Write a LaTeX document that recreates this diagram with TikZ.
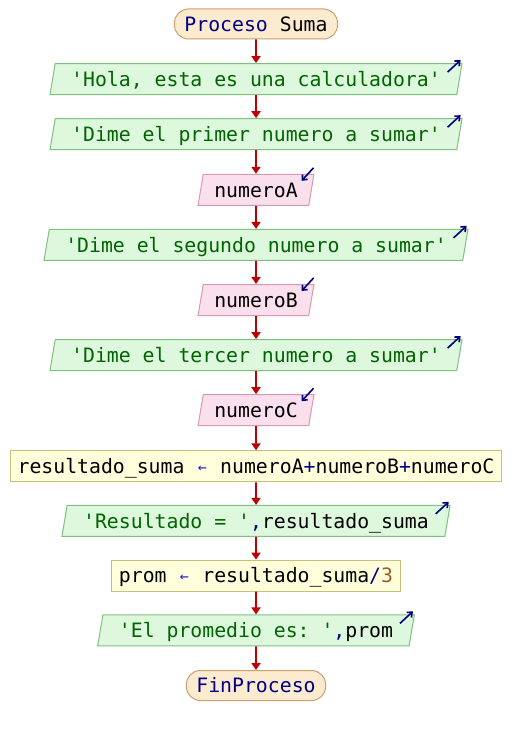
\documentclass[tikz,border=0pt]{standalone}
\usepackage{fontspec}
\setmonofont{DejaVu Sans Mono}
\usetikzlibrary{shapes.geometric,arrows.meta,calc}

% palette
\definecolor{termfill}{HTML}{FDEBD0}
\definecolor{termdraw}{HTML}{C8A070}
\definecolor{outfill}{HTML}{DDF8DD}
\definecolor{outdraw}{HTML}{80C080}
\definecolor{infill}{HTML}{FAE0EC}
\definecolor{indraw}{HTML}{D898B4}
\definecolor{asgfill}{HTML}{FFFFDC}
\definecolor{asgdraw}{HTML}{C8C078}
\definecolor{flowcol}{HTML}{C00000}
\definecolor{kwcol}{HTML}{000080}
\definecolor{strcol}{HTML}{006400}
\definecolor{opcol}{HTML}{000080}
\definecolor{asgcol}{HTML}{2020C0}
\definecolor{numcol}{HTML}{A05A28}
\definecolor{markcol}{HTML}{000080}

\newcommand{\str}[1]{{\color{strcol}#1}}
\newcommand{\kw}[1]{{\color{kwcol}#1}}
\newcommand{\op}[1]{{\color{opcol}#1}}
\newcommand{\num}[1]{{\color{numcol}#1}}
% assignment arrow: small glyph kept in one character cell
\newcommand{\asg}{\makebox[11.92pt]{\color{asgcol}\fontsize{15}{15}\selectfont\raisebox{1pt}{←}}}

\tikzset{
  base/.style={font=\ttfamily\fontsize{19.8}{22}\selectfont,
    text height=14.4pt, text depth=0pt, inner ysep=0pt, line width=1pt},
  terminal/.style={base, rectangle, rounded corners=14pt, draw=termdraw,
    fill=termfill, minimum height=30pt, inner xsep=10pt},
  outbox/.style={base, trapezium, trapezium left angle=70,
    trapezium right angle=110, trapezium stretches=true,
    draw=outdraw, fill=outfill, minimum height=31pt, inner xsep=16pt},
  inbox/.style={outbox, draw=indraw, fill=infill, inner xsep=11pt},
  assign/.style={base, rectangle, draw=asgdraw, fill=asgfill,
    minimum height=31pt, inner xsep=7pt},
  flow/.style={draw=flowcol, line width=1.8pt,
    -{Triangle[length=7pt,width=9pt]}},
  iomark/.style={draw=markcol, line width=1.6pt,
    -{Straight Barb[length=4pt,width=7pt,line width=1.6pt]}}
}

\begin{document}
\begin{tikzpicture}[x=1pt,y=-1pt]
  \fill[white] (0,0) rectangle (512,735);
  \useasboundingbox (0,0) rectangle (512,735);

  % blocks, top to bottom
  \node[terminal] (start) at (256,24)    {\kw{Proceso} Suma};
  \node[outbox]   (msg1)  at (256,79.1)  {\str{'Hola, esta es una calculadora'}};
  \node[outbox]   (msg2)  at (256,134.2) {\str{'Dime el primer numero a sumar'}};
  \node[inbox]    (inA)   at (256,189.8) {numeroA};
  \node[outbox]   (msg3)  at (256,244.9) {\str{'Dime el segundo numero a sumar'}};
  \node[inbox]    (inB)   at (256,300.0) {numeroB};
  \node[outbox]   (msg4)  at (256,355.1) {\str{'Dime el tercer numero a sumar'}};
  \node[inbox]    (inC)   at (256,410.2) {numeroC};
  \node[assign]   (sum)   at (256,466.3)
    {resultado\_suma \asg{} numeroA\op{+}numeroB\op{+}numeroC};
  \node[outbox]   (res)   at (256,520.9) {\str{'Resultado = '}\op{,}resultado\_suma};
  \node[assign]   (avg)   at (256,575.6) {prom \asg{} resultado\_suma\op{/}\num{3}};
  \node[outbox]   (msg5)  at (256,630.4) {\str{'El promedio es: '}\op{,}prom};
  \node[terminal] (stop)  at (256,685.5) {\kw{FinProceso}};

  % flow connectors
  \foreach \a/\b in {start/msg1, msg1/msg2, msg2/inA, inA/msg3, msg3/inB,
                     inB/msg4, msg4/inC, inC/sum, sum/res, res/avg,
                     avg/msg5, msg5/stop}
    \draw[flow] (\a.south) -- (\b.north);

  % output marks
  \foreach \n in {msg1, msg2, msg3, msg4, res, msg5}
    \draw[iomark] ($(\n.top right corner)+(-15,9)$) -- ($(\n.top right corner)+(-2,-3)$);

  % input marks
  \foreach \n in {inA, inB, inC}
    \draw[iomark] ($(\n.top right corner)+(-1,-6)$) -- ($(\n.top right corner)+(-13,7)$);
\end{tikzpicture}
\end{document}
